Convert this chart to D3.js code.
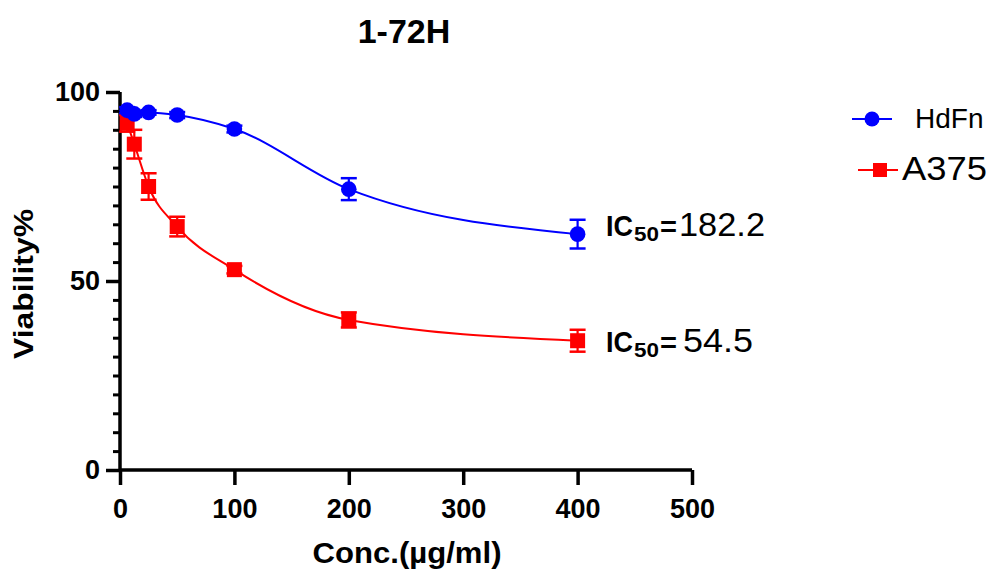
<!DOCTYPE html>
<html>
<head>
<meta charset="utf-8">
<script src="https://cdn.jsdelivr.net/npm/d3@7/dist/d3.min.js"></script>
<style>
  html, body { margin: 0; padding: 0; background: #fff; }
  svg { display: block; font-family: "Liberation Sans", Arial, sans-serif; }
</style>
</head>
<body>
<svg id="chart" width="990" height="569"></svg>
<script>
// ---- data ----
const conc = [6.25, 12.5, 25, 50, 100, 200, 400];
const hdfnMean = [95.2, 94.2, 94.6, 93.9, 90.2, 74.3, 62.4];
const hdfnSD   = [0.8, 0.8, 0.6, 0.8, 0.9, 2.9, 3.8];
const a375Mean = [91.7, 86.2, 75.0, 64.4, 53.0, 39.7, 34.2];
const a375SD   = [2.2, 3.8, 3.5, 2.6, 1.0, 2.0, 2.9];
const xTicks = [0, 100, 200, 300, 400, 500];
const yTicks = [0, 50, 100];
const yMinorTicks = d3.range(0, 101, 5);
const seriesNames = ["HdFn", "A375"];
const ic50Values = ["182.2", "54.5"];
const titleText = "1-72H";
const xLabel = "Conc.(\u00b5g/ml)";
const yLabel = "Viability%";

// ---- layout ----
const svg = d3.select("#chart");
const x = d3.scaleLinear().domain([0, 500]).range([120, 692]);
const y = d3.scaleLinear().domain([0, 100]).range([470, 92]);

const series = [
  { name: seriesNames[0], mean: hdfnMean, sd: hdfnSD, color: "#0000ff", shape: "circle" },
  { name: seriesNames[1], mean: a375Mean, sd: a375SD, color: "#ff0000", shape: "square" }
];

// title
svg.append("text").attr("x", 404).attr("y", 43).attr("text-anchor", "middle")
  .attr("font-size", 34).attr("font-weight", "bold").text(titleText);

// axes
const xAxis = d3.axisBottom(x).tickValues(xTicks).tickSize(15).tickPadding(14).tickFormat(d3.format("d"));
const gx = svg.append("g").attr("transform", "translate(0,470)").call(xAxis);
gx.select(".domain").attr("stroke", "#000").attr("stroke-width", 3.5)
  .attr("d", `M${x(0)},0H${x(500)}`);
gx.selectAll(".tick line").attr("stroke", "#000").attr("stroke-width", 3.5);
gx.selectAll(".tick text").attr("font-size", 27).attr("font-weight", "bold")
  .attr("font-family", "Liberation Sans, Arial, sans-serif").attr("fill", "#000");

const yMinor = d3.axisLeft(y).tickValues(yMinorTicks.filter(v => v % 50 !== 0)).tickSize(7).tickFormat("");
const gym = svg.append("g").attr("transform", `translate(${x(0)},0)`).call(yMinor);
gym.select(".domain").remove();
gym.selectAll(".tick line").attr("stroke", "#000").attr("stroke-width", 3);

const yAxis = d3.axisLeft(y).tickValues(yTicks).tickSize(14).tickPadding(6).tickFormat(d3.format("d"));
const gy = svg.append("g").attr("transform", `translate(${x(0)},0)`).call(yAxis);
gy.select(".domain").attr("stroke", "#000").attr("stroke-width", 3.5)
  .attr("d", `M0,${y(100)}V${y(0) + 1.75}`);
gy.selectAll(".tick line").attr("stroke", "#000").attr("stroke-width", 3.5);
gy.selectAll(".tick text").attr("font-size", 27).attr("font-weight", "bold")
  .attr("font-family", "Liberation Sans, Arial, sans-serif").attr("fill", "#000");

// axis labels
svg.append("text").attr("x", 407).attr("y", 563).attr("text-anchor", "middle")
  .attr("font-size", 29).attr("font-weight", "bold")
  .attr("textLength", 189).attr("lengthAdjust", "spacingAndGlyphs").text(xLabel);
svg.append("text").attr("transform", "translate(33,284) rotate(-90)").attr("text-anchor", "middle")
  .attr("font-size", 28).attr("font-weight", "bold")
  .attr("textLength", 150).attr("lengthAdjust", "spacingAndGlyphs").text(yLabel);

// draw series (red first, blue on top)
const line = d3.line().x(d => x(d[0])).y(d => y(d[1])).curve(d3.curveMonotoneX);
const drawOrder = [series[1], series[0]];
drawOrder.forEach(s => {
  const pts = conc.map((c, i) => [c, s.mean[i], s.sd[i]]);
  const g = svg.append("g");
  g.append("path").attr("d", line(pts)).attr("fill", "none")
    .attr("stroke", s.color).attr("stroke-width", 2);
  // error bars
  const eb = g.selectAll(".eb").data(pts).enter().append("g");
  eb.append("line").attr("x1", d => x(d[0])).attr("x2", d => x(d[0]))
    .attr("y1", d => y(d[1] + d[2])).attr("y2", d => y(d[1] - d[2]))
    .attr("stroke", s.color).attr("stroke-width", 2.2);
  [1, -1].forEach(sign => {
    eb.append("line").attr("x1", d => x(d[0]) - 8).attr("x2", d => x(d[0]) + 8)
      .attr("y1", d => y(d[1] + sign * d[2])).attr("y2", d => y(d[1] + sign * d[2]))
      .attr("stroke", s.color).attr("stroke-width", 2.5);
  });
  // markers
  if (s.shape === "circle") {
    g.selectAll(".m").data(pts).enter().append("circle")
      .attr("cx", d => x(d[0])).attr("cy", d => y(d[1])).attr("r", 7.8).attr("fill", s.color);
  } else {
    g.selectAll(".m").data(pts).enter().append("rect")
      .attr("x", d => x(d[0]) - 7.5).attr("y", d => y(d[1]) - 7.5)
      .attr("width", 15).attr("height", 15).attr("fill", s.color);
  }
});

// IC50 annotations
const icY = [236, 351.5];
const numX = [679, 683];
const numLen = [86, 70];
ic50Values.forEach((v, i) => {
  const g = svg.append("g").attr("fill", "#000");
  g.append("text").attr("x", 606).attr("y", icY[i]).attr("font-size", 30).attr("font-weight", "bold")
    .attr("textLength", 27).attr("lengthAdjust", "spacingAndGlyphs").text("IC");
  g.append("text").attr("x", 634).attr("y", icY[i] + 5).attr("font-size", 20).attr("font-weight", "bold")
    .attr("textLength", 25).attr("lengthAdjust", "spacingAndGlyphs").text("50");
  g.append("text").attr("x", 660).attr("y", icY[i]).attr("font-size", 28).attr("font-weight", "bold")
    .attr("textLength", 17).attr("lengthAdjust", "spacingAndGlyphs").text("=");
  g.append("text").attr("x", numX[i]).attr("y", icY[i]).attr("font-size", 33)
    .attr("textLength", numLen[i]).attr("lengthAdjust", "spacingAndGlyphs").text(v);
});

// legend
const legend = svg.append("g");
// HdFn
legend.append("line").attr("x1", 852).attr("x2", 892).attr("y1", 119).attr("y2", 119)
  .attr("stroke", series[0].color).attr("stroke-width", 2);
legend.append("circle").attr("cx", 872).attr("cy", 119).attr("r", 7.5).attr("fill", series[0].color);
legend.append("text").attr("x", 915).attr("y", 128).attr("font-size", 28).text(series[0].name);
// A375
legend.append("line").attr("x1", 858).attr("x2", 898).attr("y1", 170).attr("y2", 170)
  .attr("stroke", series[1].color).attr("stroke-width", 2);
legend.append("rect").attr("x", 873).attr("y", 163).attr("width", 14).attr("height", 14).attr("fill", series[1].color);
legend.append("text").attr("x", 902).attr("y", 179.5).attr("font-size", 33)
  .attr("textLength", 85).attr("lengthAdjust", "spacingAndGlyphs").text(series[1].name);
</script>
</body>
</html>
